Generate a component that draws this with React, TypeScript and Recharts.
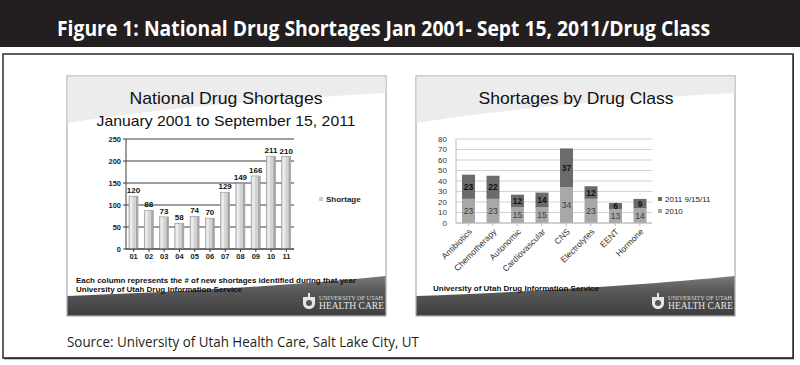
import React from 'react';
import { BarChart, Bar, XAxis, YAxis, CartesianGrid, LabelList, Legend } from 'recharts';

// left chart: new shortages per year
const years = ['01', '02', '03', '04', '05', '06', '07', '08', '09', '10', '11'];
const shortages = [120, 88, 73, 58, 74, 70, 129, 149, 166, 211, 210];
const yearTicks = [0, 50, 100, 150, 200, 250];

// right chart: shortages by drug class
const drugClasses = ['Antibiotics', 'Chemotherapy', 'Autonomic', 'Cardiovascular', 'CNS', 'Electrolytes', 'EENT', 'Hormone'];
const shortages2010 = [23, 23, 15, 15, 34, 23, 13, 14];
const shortages2011 = [23, 22, 12, 14, 37, 12, 6, 9];
const classTicks = [0, 10, 20, 30, 40, 50, 60, 70, 80];

const yearData = years.map((year, i) => ({ year, Shortage: shortages[i] }));
const classData = drugClasses.map((name, i) => ({
  name,
  y2010: shortages2010[i],
  y2011: shortages2011[i],
}));

const ARIAL = '"Liberation Sans", Arial, sans-serif';
const MYRIAD = '"Open Sans", "Noto Sans", sans-serif';

const ShadedBar = (props: any) => {
  const { x, y, width, height } = props;
  if (!height || height <= 0) return null;
  return (
    <g>
      <rect x={x} y={y} width={width} height={height} fill="#d3d3d3" stroke="#8e8e8e" strokeWidth={0.6} />
      <rect x={x + 1} y={y + 0.5} width={2.5} height={height - 1} fill="#ececec" />
      <rect x={x + width - 2} y={y + 0.5} width={1.6} height={height - 1} fill="#a2a2a2" />
    </g>
  );
};

const LegendList = ({ payload, reverse, bold }: any) => {
  const items = reverse ? [...(payload || [])].reverse() : payload || [];
  return (
    <div style={{ fontFamily: ARIAL, whiteSpace: 'nowrap', width: 'max-content' }}>
      {items.map((p: any) => (
        <div key={p.value} style={{ display: 'flex', alignItems: 'center', height: 12, fontSize: 8, fontWeight: bold ? 700 : 400, color: '#222' }}>
          <span style={{ width: 4, height: 4, flexShrink: 0, background: p.color, marginRight: 3, display: 'inline-block' }} />
          {p.value}
        </div>
      ))}
    </div>
  );
};

const Panel = ({ x }: { x: number }) => {
  const w = 319;
  const y = 76;
  const h = 240;
  return (
    <g>
      <rect x={x} y={y} width={w} height={h} fill="#ffffff" stroke="#9a9a9a" strokeWidth={1} />
      <path d={`M${x + 0.5},${y + 0.5} H${x + w - 0.5} V${y + 17} C${x + 220},${y + 22} ${x + 90},${y + 32} ${x + 0.5},${y + 47} Z`} fill="#ececec" />
      <path d={`M${x + 0.5},${y + 220} C${x + 110},${y + 216} ${x + 230},${y + 209} ${x + w - 0.5},${y + 200} V${y + h - 0.5} H${x + 0.5} Z`} fill="url(#band)" />
      <g transform={`translate(${x + 236},${y + 219})`}>
        <path d="M0,2 H12 V8 C12,12 9,14 6,14 C3,14 0,12 0,8 Z" fill="#e6e6e6" />
        <rect x={5} y={-2} width={2} height={5} fill="#e6e6e6" />
        <circle cx={6} cy={8} r={3} fill="#555" />
      </g>
      <text x={x + 252} y={y + 224} fontSize={5.2} fill="#d8d8d8" fontFamily='"Liberation Serif", serif' textLength={64} lengthAdjust="spacingAndGlyphs">UNIVERSITY OF UTAH</text>
      <text x={x + 252} y={y + 233} fontSize={10} fill="#e4e4e4" fontFamily='"Liberation Serif", serif' textLength={65} lengthAdjust="spacingAndGlyphs">HEALTH CARE</text>
    </g>
  );
};

// zero-sized wrapper so the legend does not take room from the plot
const legendBox = (left: number, top: number) => ({
  left,
  top,
  width: 0,
  height: 0,
  overflow: 'visible' as const,
  whiteSpace: 'nowrap' as const,
});

export default function App() {
  return (
    <div style={{ position: 'absolute', left: 0, top: 0, width: 800, height: 365, background: '#fff', overflow: 'hidden' }}>
      <svg width={800} height={365} style={{ position: 'absolute', left: 0, top: 0 }}>
        <defs>
          <linearGradient id="band" x1="0" y1="0" x2="0" y2="1">
            <stop offset="0" stopColor="#7a7a7a" />
            <stop offset="0.35" stopColor="#5a5a5a" />
            <stop offset="1" stopColor="#3e3e3e" />
          </linearGradient>
        </defs>
        <rect x={0} y={0} width={800} height={47} fill="#231f20" />
        <text x={57} y={36} fontSize={22} fontWeight={700} fill="#ffffff" fontFamily={MYRIAD} textLength={653} lengthAdjust="spacingAndGlyphs">
          Figure 1: National Drug Shortages Jan 2001- Sept 15, 2011/Drug Class
        </text>
        <rect x={3} y={54} width={790} height={304} fill="none" stroke="#2a2a2a" strokeWidth={1.5} />
        <line x1={4} y1={358.5} x2={794} y2={358.5} stroke="#2a2a2a" strokeWidth={1.5} />
        <line x1={793.5} y1={55} x2={793.5} y2={359} stroke="#2a2a2a" strokeWidth={1} />
        <text x={67} y={347} fontSize={14} fill="#231f20" fontFamily={MYRIAD} textLength={352} lengthAdjust="spacingAndGlyphs">
          Source: University of Utah Health Care, Salt Lake City, UT
        </text>

        <Panel x={67} />
        <Panel x={416} />

        <text x={226} y={104} fontSize={17} textAnchor="middle" fill="#111" fontFamily={ARIAL} textLength={193} lengthAdjust="spacingAndGlyphs">National Drug Shortages</text>
        <text x={226} y={126} fontSize={15} textAnchor="middle" fill="#111" fontFamily={ARIAL} textLength={259} lengthAdjust="spacingAndGlyphs">January 2001 to September 15, 2011</text>
        <text x={76} y={283} fontSize={8} fontWeight={700} fill="#111" fontFamily={ARIAL} textLength={280} lengthAdjust="spacingAndGlyphs">Each column represents the # of new shortages identified during that year</text>
        <text x={76} y={292} fontSize={8} fontWeight={700} fill="#111" fontFamily={ARIAL} textLength={166} lengthAdjust="spacingAndGlyphs">University of Utah Drug Information Service</text>

        <text x={576} y={104} fontSize={17} textAnchor="middle" fill="#111" fontFamily={ARIAL} textLength={195} lengthAdjust="spacingAndGlyphs">Shortages by Drug Class</text>
        <text x={433} y={291} fontSize={8} fontWeight={700} fill="#111" fontFamily={ARIAL} textLength={166} lengthAdjust="spacingAndGlyphs">University of Utah Drug Information Service</text>
      </svg>

      <div style={{ position: 'absolute', left: 67, top: 76 }}>
        <BarChart width={318} height={240} data={yearData} margin={{ top: 63, right: 91, bottom: 52, left: 29 }} barSize={9}>
          <CartesianGrid vertical={false} stroke="#3c3c3c" strokeWidth={1} />
          <XAxis
            dataKey="year"
            height={15}
            axisLine={{ stroke: '#3c3c3c' }}
            tickLine={{ stroke: '#3c3c3c' }}
            tickSize={3}
            interval={0}
            tick={{ fontSize: 7.5, fontWeight: 700, fill: '#222', fontFamily: ARIAL }}
          />
          <YAxis
            width={30}
            domain={[0, 250]}
            ticks={yearTicks}
            interval={0}
            axisLine={{ stroke: '#3c3c3c' }}
            tickLine={{ stroke: '#3c3c3c' }}
            tickSize={3}
            tick={{ fontSize: 7.5, fontWeight: 700, fill: '#222', fontFamily: ARIAL }}
          />
          <Legend
            layout="vertical"
            content={(p: any) => <LegendList payload={p.payload} bold />}
            wrapperStyle={legendBox(252, 117)}
          />
          <Bar dataKey="Shortage" fill="#cfcfcf" shape={<ShadedBar />} isAnimationActive={false}>
            <LabelList dataKey="Shortage" position="top" offset={3} style={{ fontSize: 8, fontWeight: 700, fill: '#111', fontFamily: ARIAL }} />
          </Bar>
        </BarChart>
      </div>

      <div style={{ position: 'absolute', left: 416, top: 76 }}>
        <BarChart width={319} height={240} data={classData} margin={{ top: 63, right: 83, bottom: 33, left: 15 }} barSize={13}>
          <CartesianGrid vertical={false} stroke="#d2d2d2" strokeWidth={1} />
          <XAxis
            dataKey="name"
            height={60}
            interval={0}
            axisLine={{ stroke: '#b8b8b8' }}
            tickLine={{ stroke: '#b8b8b8' }}
            tickSize={3}
            angle={-45}
            textAnchor="end"
            tick={{ fontSize: 8.5, fill: '#333', fontFamily: ARIAL }}
          />
          <YAxis
            width={25}
            domain={[0, 80]}
            ticks={classTicks}
            interval={0}
            axisLine={{ stroke: '#b8b8b8' }}
            tickLine={false}
            tickMargin={3}
            tick={{ fontSize: 8, fill: '#333', fontFamily: ARIAL }}
          />
          <Legend
            layout="vertical"
            content={(p: any) => <LegendList payload={p.payload} reverse />}
            wrapperStyle={legendBox(242, 117)}
          />
          <Bar dataKey="y2010" name="2010" stackId="a" fill="#a8a8a8" isAnimationActive={false}>
            <LabelList dataKey="y2010" position="center" style={{ fontSize: 8.5, fill: '#3a3a3a', fontFamily: ARIAL }} />
          </Bar>
          <Bar dataKey="y2011" name="2011 9/15/11" stackId="a" fill="#6b6b6b" isAnimationActive={false}>
            <LabelList dataKey="y2011" position="center" style={{ fontSize: 8.5, fontWeight: 700, fill: '#111', fontFamily: ARIAL }} />
          </Bar>
        </BarChart>
      </div>
    </div>
  );
}
